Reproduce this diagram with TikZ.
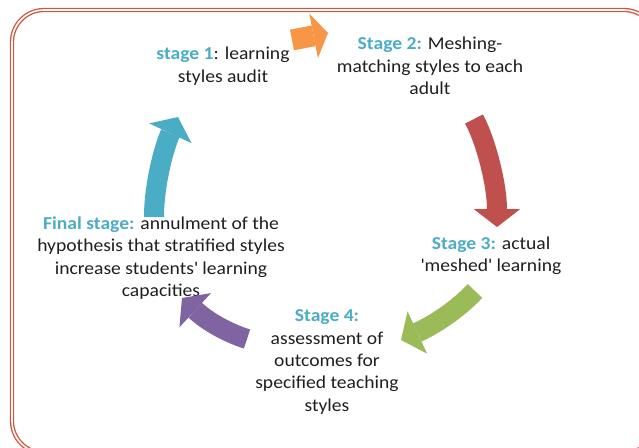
\documentclass[tikz,border=0pt]{standalone}
\usepackage{fontspec}
\setmainfont{Carlito}[FakeStretch=1.08]
\usetikzlibrary{arrows.meta}
\definecolor{framered}{HTML}{D2563A}
\definecolor{stageteal}{HTML}{4BACC6}
\definecolor{arroworange}{HTML}{F79646}
\definecolor{arrowred}{HTML}{C0504D}
\definecolor{arrowgreen}{HTML}{9BBB59}
\definecolor{arrowpurple}{HTML}{8064A2}
\definecolor{arrowteal}{HTML}{4BACC6}
\definecolor{textdark}{HTML}{1F1F1F}
\newcommand{\stagetag}[1]{\textcolor{stageteal}{\textbf{#1}}}
\newcommand{\q}{\textquotesingle}

\begin{document}
\begin{tikzpicture}[
    x=0.75pt, y=-0.75pt,
    stagetext/.style={align=center, text=textdark, font=\fontsize{13.6}{16.8}\selectfont, inner sep=0pt},
    cyclearrow/.style={line width=15pt, -{Triangle[length=13.5pt, width=35pt, line width=0pt]}},
]
\useasboundingbox (0,0) rectangle (639,447);
\clip (0,0) rectangle (639,447);

% Frame
\draw[framered, line width=1pt, double=white, double distance=1.2pt, rounded corners=24pt] (12,10) rectangle (656,453);

% Stages
\node[stagetext] (s1) at (223,66) {\stagetag{stage 1}: learning\\styles audit};
\node[stagetext] (s2) at (430,66) {\stagetag{Stage 2:} Meshing-\\matching styles to each\\adult};
\node[stagetext] (s3) at (491,256) {\stagetag{Stage 3:} actual\\\q meshed\q{} learning};
\node[stagetext] (s4) at (327,362) {\stagetag{Stage 4:}\\assessment of\\outcomes for\\specified teaching\\styles};
\node[stagetext] (sf) at (161,258) {\stagetag{Final stage:} annulment of the\\hypothesis that stratified styles\\increase students\q{} learning\\capacities};

% Cycle arrows
\draw[cyclearrow, arroworange, line width=15.75pt, -{Triangle[length=11pt, width=34pt, line width=0pt]}] (292,40) -- (328,33);
\draw[cyclearrow, arrowred] (474,119) .. controls (486,141) and (497,185) .. (497,227);
\draw[cyclearrow, arrowgreen] (475,291) .. controls (462,305) and (440,322) .. (401,340);
\draw[cyclearrow, arrowpurple] (247,339) .. controls (228,333) and (208,322) .. (182,298);
\draw[cyclearrow, arrowteal] (154,217) .. controls (154,185) and (164,147) .. (178,117);

\end{tikzpicture}
\end{document}
